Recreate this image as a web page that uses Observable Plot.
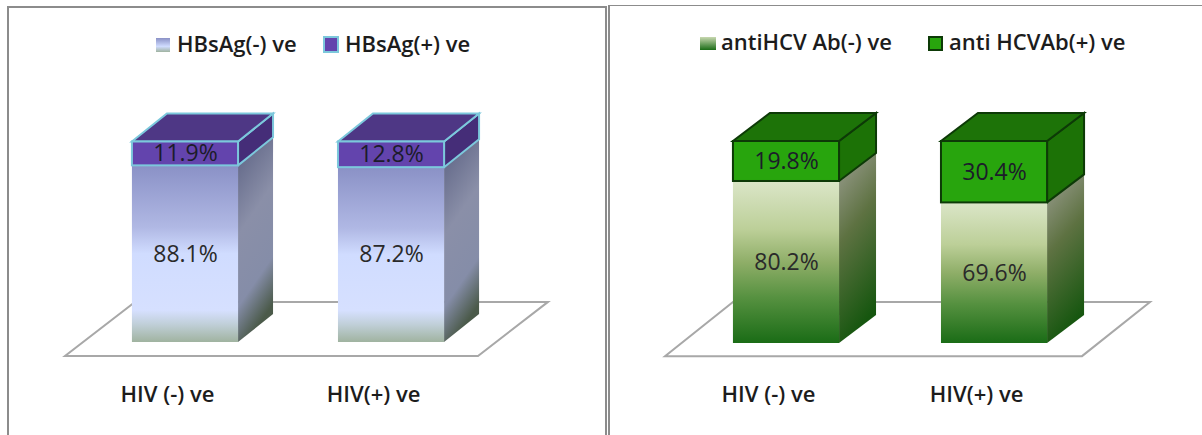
<!DOCTYPE html>
<html>
<head>
<meta charset="utf-8">
<script src="https://cdn.jsdelivr.net/npm/d3@7"></script>
<script src="https://cdn.jsdelivr.net/npm/@observablehq/plot@0.6"></script>
<style>
html,body{margin:0;padding:0;background:#fff;}
#root{position:relative;width:1202px;height:435px;overflow:hidden;font-family:"Open Sans",sans-serif;}
.panel{position:absolute;top:0;height:435px;}
.panel svg{position:absolute;left:0;top:0;background:transparent;overflow:visible;}
.rule{position:absolute;background:#8c8c8c;}
.key{position:absolute;font:600 22px "Open Sans",sans-serif;color:#1c1c1c;white-space:nowrap;line-height:24px;}
.swatch{position:absolute;box-sizing:border-box;}
</style>
</head>
<body>
<div id="root"></div>
<script>
// ---- data ----
const groups = ["HIV (-) ve", "HIV(+) ve"];
const hbsNegative = [88.1, 87.2];
const hbsPositive = [11.9, 12.8];
const hcvNegative = [80.2, 69.6];
const hcvPositive = [19.8, 30.4];
const hbsLegend = ["HBsAg(-) ve", "HBsAg(+) ve"];
const hcvLegend = ["antiHCV Ab(-) ve", "anti HCVAb(+) ve"];

const root = document.getElementById("root");

function stops(list) {
  return list.map(([o, c]) => `<stop offset="${o}" stop-color="${c}"/>`).join("");
}

function panel(cfg) {
  const rows = groups.map((g, i) => ({group: g, neg: cfg.neg[i], pos: cfg.pos[i]}));
  const defs = () => {
    const g = document.createElementNS("http://www.w3.org/2000/svg", "defs");
    g.innerHTML =
      `<linearGradient id="${cfg.id}-front" x1="0" y1="0" x2="0" y2="1">${stops(cfg.frontStops)}</linearGradient>` +
      `<linearGradient id="${cfg.id}-side" x1="0" y1="0" x2="0.25" y2="1">${stops(cfg.sideStops)}</linearGradient>`;
    return g;
  };
  const floor = (index, {x, y}) => {
    const [a, b] = x.range();
    const left = a + cfg.floor[0], right = b + cfg.floor[1], slant = cfg.floor[2];
    const yn = y(cfg.floor[3]), yf = y(cfg.floor[4]);
    const p = d3.create("svg:path")
      .attr("d", `M${left},${yn}L${right},${yn}L${right + slant},${yf}L${left + slant},${yf}Z`)
      .attr("fill", "#fff").attr("stroke", "#a8a8a8").attr("stroke-width", 2);
    return p.node();
  };
  const sides = (index, {x, y}) => {
    const g = d3.create("svg:g");
    const w = x.bandwidth();
    const [dx, dy] = cfg.depth;
    for (const r of rows) {
      const x1 = x(r.group), x2 = x1 + w;
      const y0 = y(0), ym = y(r.neg), yt = y(100);
      g.append("path")
        .attr("d", `M${x2},${y0}L${x2 + dx},${y0 - dy}L${x2 + dx},${ym - dy}L${x2},${ym}Z`)
        .attr("fill", `url(#${cfg.id}-side)`);
      g.append("path")
        .attr("d", `M${x2},${ym}L${x2 + dx},${ym - dy}L${x2 + dx},${yt - dy}L${x2},${yt}Z`)
        .attr("fill", cfg.sidePos).attr("stroke", cfg.edge).attr("stroke-width", 2);
      g.append("path")
        .attr("d", `M${x1},${yt}L${x1 + dx},${yt - dy}L${x2 + dx},${yt - dy}L${x2},${yt}Z`)
        .attr("fill", cfg.topPos).attr("stroke", cfg.edge).attr("stroke-width", 2);
    }
    return g.node();
  };
  const chart = Plot.plot({
    width: cfg.width,
    height: 435,
    marginTop: 0, marginLeft: 0, marginRight: 0, marginBottom: 49,
    style: {fontFamily: '"Open Sans", sans-serif', background: "transparent", overflow: "visible"},
    x: {type: "band", domain: groups, range: cfg.xRange, padding: cfg.padding, round: false, label: null},
    y: {domain: [0, 100], range: cfg.yRange, axis: null, label: null},
    marks: [
      defs,
      floor,
      sides,
      Plot.barY(rows, {x: "group", y1: 0, y2: "neg", fill: `url(#${cfg.id}-front)`}),
      Plot.barY(rows, {x: "group", y1: "neg", y2: () => 100, fill: cfg.frontPos, stroke: cfg.edge, strokeWidth: 2}),
      Plot.text(rows, {x: "group", y: d => d.neg / 2, text: d => d.neg.toFixed(1) + "%", fontSize: 23, fill: "#2a2a2a", fontFamily: "Open Sans"}),
      Plot.text(rows, {x: "group", y: d => d.neg + d.pos / 2, text: d => d.pos.toFixed(1) + "%", fontSize: 23, fill: "#1c1c2a", fontFamily: "Open Sans"}),
      Plot.axisX({anchor: "bottom", tickSize: 0, tickPadding: 0, dx: -18, label: null, fontSize: 22, fontWeight: 600, color: "#1c1c1c"})
    ]
  });
  const box = document.createElement("div");
  box.className = "panel";
  box.style.left = cfg.left + "px";
  box.style.width = cfg.width + "px";
  box.appendChild(chart);
  cfg.legend.forEach((label, i) => {
    const s = document.createElement("div");
    s.className = "swatch";
    Object.assign(s.style, cfg.swatches[i]);
    box.appendChild(s);
    const t = document.createElement("div");
    t.className = "key";
    t.textContent = label;
    Object.assign(t.style, {left: cfg.keyX[i] + "px", top: cfg.keyY + "px"});
    box.appendChild(t);
  });
  root.appendChild(box);
}

panel({
  id: "hbs", left: 0, width: 607,
  neg: hbsNegative, pos: hbsPositive, legend: hbsLegend,
  xRange: [32, 544], padding: 0.485, yRange: [342, 141.5],
  depth: [35, 28], floor: [33, -66, 70, -7, 20],
  frontStops: [[0, "#8a91c6"], [0.35, "#b0b8e4"], [0.5, "#d0dcff"], [0.82, "#d6e0ff"], [0.9, "#c0cfd8"], [1, "#a0b3a0"]],
  sideStops: [[0, "#5a6082"], [0.45, "#8a8fa8"], [0.78, "#858da8"], [1, "#4b5a4a"]],
  frontPos: "#6344ad", sidePos: "#452d78", topPos: "#4e3785", edge: "#7cc8dc",
  keyX: [177, 345], keyY: 31,
  swatches: [
    {left: "156px", top: "38px", width: "14px", height: "14px", background: "linear-gradient(#8a91c6,#d0dcff 60%,#a0b3a0)"},
    {left: "323px", top: "36px", width: "16px", height: "17px", background: "#6344ad", border: "2px solid #7cc8dc"}
  ]
});

panel({
  id: "hcv", left: 608, width: 594,
  neg: hcvNegative, pos: hcvPositive, legend: hcvLegend,
  xRange: [23, 541], padding: 0.49, yRange: [343, 141],
  depth: [37, 28], floor: [34, -67, 68, -6.5, 20.3],
  frontStops: [[0, "#dbe6c8"], [0.3, "#bccf98"], [0.5, "#8fae68"], [0.72, "#569140"], [1, "#1a6c16"]],
  sideStops: [[0, "#9d9f93"], [0.45, "#5e7242"], [1, "#16560f"]],
  frontPos: "#28a50d", sidePos: "#1c7206", topPos: "#1d7308", edge: "#0d3a07",
  keyX: [113, 341], keyY: 29,
  swatches: [
    {left: "92px", top: "37px", width: "16px", height: "13px", background: "linear-gradient(#c8d8b0,#1a6c16)"},
    {left: "320px", top: "36px", width: "15px", height: "15px", background: "#28a50d", border: "2px solid #0d3a07"}
  ]
});

// panel frames
[
  {left: 7, top: 6, width: 600, height: 2},
  {left: 7, top: 6, width: 2, height: 429},
  {left: 605, top: 6, width: 2, height: 429},
  {left: 608, top: 5, width: 2, height: 430},
  {left: 608, top: 5, width: 594, height: 1}
].forEach(r => {
  const d = document.createElement("div");
  d.className = "rule";
  Object.assign(d.style, {left: r.left + "px", top: r.top + "px", width: r.width + "px", height: r.height + "px"});
  root.appendChild(d);
});
</script>
</body>
</html>
